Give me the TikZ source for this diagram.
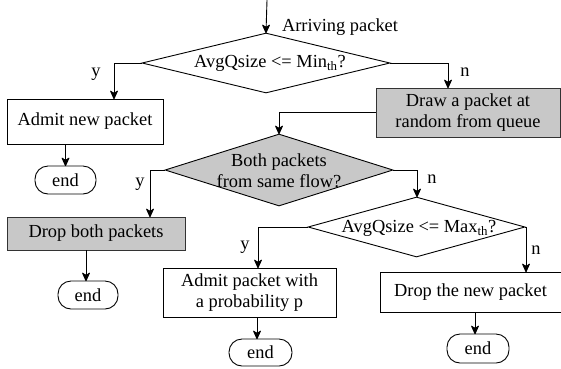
\documentclass[tikz,border=0pt]{standalone}
\usepackage{fontspec}
\setmainfont{Liberation Serif}
\usetikzlibrary{shapes.geometric,arrows.meta,calc}
\definecolor{boxgray}{RGB}{200,200,200}
\newcommand\fantip[1]{\draw[line width=1.1pt, line cap=round] #1 -- ++(-3.3,7.4) #1 -- ++(-2.2,6.6) #1 -- ++(-1.1,6.0) #1 -- ++(0,5.6) #1 -- ++(1.1,6.0) #1 -- ++(2.2,6.6) #1 -- ++(3.3,7.4);}
\begin{document}
\begin{tikzpicture}[x=1pt,y=1pt,
  every node/.style={font=\fontsize{18.4}{21}\selectfont, inner sep=0pt},
  proc/.style={draw, line width=0.9pt, rectangle, align=center},
  grayproc/.style={proc, fill=boxgray, draw=black!80},
  term/.style={draw, line width=0.9pt, rectangle, rounded corners=13pt},
  decision/.style={draw, line width=0.9pt, diamond},
  arr/.style={draw=black, line width=0.9pt, -{Stealth[length=7.6pt,width=7pt,inset=2pt,fill=black]}}]
\useasboundingbox (0,0) rectangle (561,-368);

% start
\coordinate (start) at (267,0);
\node (arrive) at (340,-27) {Arriving packet};

% decision 1
\node[decision, minimum width=248pt, minimum height=60pt] (d1) at (266,-63) {};
\node (t1) at (270,-63) {AvgQsize <= Min\textsubscript{th}?};

% boxes
\node[proc, minimum width=156pt, minimum height=45pt] (b1) at (85,-121.5) {Admit new packet};
\node[term, minimum width=61pt, minimum height=28pt] (e1) at (65.5,-180) {end};

\node[grayproc, minimum width=184pt, minimum height=49pt] (b2) at (468,-112.5) {Draw a packet at\\random from queue};

% decision 2
\node[decision, fill=boxgray, minimum width=228pt, minimum height=72pt] (d2) at (279,-170) {};
\node[align=center] (t2) at (279,-171) {Both packets\\from same flow?};

\node[grayproc, minimum width=178pt, minimum height=33pt] (b3) at (96,-233.5) {Drop both packets};
\node[term, minimum width=60pt, minimum height=28pt] (e2) at (88,-295) {end};

% decision 3
\node[decision, minimum width=217pt, minimum height=60pt] (d3) at (416.5,-227) {};
\node (t3) at (419,-228) {AvgQsize <= Max\textsubscript{th}?};

\node[proc, minimum width=173pt, minimum height=49pt] (b4) at (249.5,-292.5) {Admit packet with\\a probability p};
\node[term, minimum width=63pt, minimum height=27pt] (e3) at (260.5,-352.5) {end};

\node[proc, minimum width=181pt, minimum height=40pt] (b5) at (470.5,-292) {Drop the new packet};
\node[term, minimum width=62pt, minimum height=29pt] (e4) at (478,-348.5) {end};

% bend coordinates
\coordinate (c1y) at (114,-63);
\coordinate (c1n) at (448,-63);
\coordinate (c2y) at (150,-170);
\coordinate (c2n) at (417,-170);
\coordinate (c3y) at (258,-227);
\coordinate (c3n) at (526,-227);

% arrow end points
\coordinate (a0) at (d1.north);
\coordinate (a1) at (c1y |- b1.north);
\coordinate (a2) at (c1n |- b2.north);
\coordinate (a3) at (e1.north);
\coordinate (a4) at (d2.north);
\coordinate (a5) at (c2y |- b3.north);
\coordinate (a6) at (c2n |- d3.north);
\coordinate (a7) at ([xshift=-2pt]e2.north);
\coordinate (a8) at (c3y |- b4.north);
\coordinate (a9) at (c3n |- b5.north);
\coordinate (a10) at ([xshift=-3.5pt]e3.north);
\coordinate (a11) at ([xshift=-3pt]e4.north);

% connectors
\draw[arr] (start) -- (a0);
\draw[arr] (d1.west) -- (c1y) -- (a1);
\draw[arr] (d1.east) -- (c1n) -- (a2);
\draw[arr] (a3 |- b1.south) -- (a3);
\draw[arr] (b2.west) -| (a4);
\draw[arr] (d2.west) -- (c2y) -- (a5);
\draw[arr] (d2.east) -- (c2n) -- (a6);
\draw[arr] (a7 |- b3.south) -- (a7);
\draw[arr] (d3.west) -- (c3y) -- (a8);
\draw[arr] (d3.east) -- (c3n) -- (a9);
\draw[arr] (a10 |- b4.south) -- (a10);
\draw[arr] (a11 |- b5.south) -- (a11);

% arrowheads reinforced with strokes
\fantip{(a0)}
\fantip{(a1)}
\fantip{(a2)}
\fantip{(a3)}
\fantip{(a4)}
\fantip{(a5)}
\fantip{(a6)}
\fantip{(a7)}
\fantip{(a8)}
\fantip{(a9)}
\fantip{(a10)}
\fantip{(a11)}

% branch labels
\node (y1) at (96,-74) {y};
\node (n1) at (465,-72) {n};
\node (y2) at (140,-184) {y};
\node (n2) at (432,-179) {n};
\node (y3) at (245,-247) {y};
\node (n3) at (536,-250) {n};
\end{tikzpicture}
\end{document}
